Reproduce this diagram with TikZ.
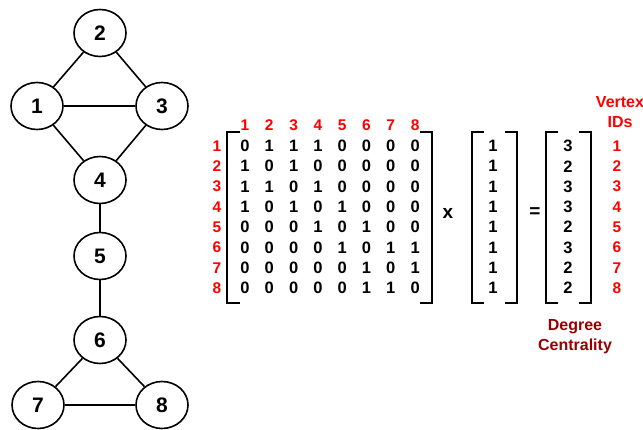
\documentclass[tikz,border=0pt]{standalone}
\usepackage{fontspec}
\setmainfont{Liberation Sans}
\usetikzlibrary{shapes.geometric}
\definecolor{idred}{RGB}{255,0,0}
\definecolor{degred}{RGB}{150,0,0}
\tikzset{
  vertex/.style={ellipse,draw,line width=1.6pt,minimum width=52pt,minimum height=47pt,inner sep=0pt,font=\fontsize{21}{21}\selectfont\bfseries},
  edge/.style={line width=1.6pt},
  cell/.style={inner sep=0pt,font=\fontsize{16.5}{16.5}\selectfont\bfseries},
  op/.style={inner sep=0pt,font=\fontsize{19}{19}\selectfont\bfseries},
  idlabel/.style={inner sep=0pt,text=idred,font=\fontsize{15.5}{15.5}\selectfont\bfseries},
  brack/.style={line width=1.6pt},
  caption/.style={inner sep=0pt,text=degred,align=center,font=\fontsize{16}{20}\selectfont\bfseries},
}
\begin{document}
\begin{tikzpicture}[x=1pt,y=-1pt]
\useasboundingbox (0,0) rectangle (643,430);

% graph
\node[vertex] (v2) at (100,33) {2};
\node[vertex] (v1) at (37,106) {1};
\node[vertex] (v3) at (162,106) {3};
\node[vertex] (v4) at (100,180) {4};
\node[vertex] (v5) at (100,256) {5};
\node[vertex] (v6) at (100,340) {6};
\node[vertex] (v7) at (38,405) {7};
\node[vertex] (v8) at (162,405) {8};
\draw[edge] (v1) -- (v2);
\draw[edge] (v2) -- (v3);
\draw[edge] (v1) -- (v3);
\draw[edge] (v1) -- (v4);
\draw[edge] (v3) -- (v4);
\draw[edge] (v4) -- (v5);
\draw[edge] (v5) -- (v6);
\draw[edge] (v6) -- (v7);
\draw[edge] (v6) -- (v8);
\draw[edge] (v7) -- (v8);

% adjacency matrix
\foreach \c in {1,...,8}
  \node[idlabel] (col\c) at ({245+(\c-1)*24.3},125) {\c};
\foreach \r in {1,...,8}
  \node[idlabel] (row\r) at (217,{146+(\r-1)*20.3}) {\r};
\foreach \rowvals [count=\r] in {
  {0,1,1,1,0,0,0,0},
  {1,0,1,0,0,0,0,0},
  {1,1,0,1,0,0,0,0},
  {1,0,1,0,1,0,0,0},
  {0,0,0,1,0,1,0,0},
  {0,0,0,0,1,0,1,1},
  {0,0,0,0,0,1,0,1},
  {0,0,0,0,0,1,1,0}}
  \foreach \v [count=\c] in \rowvals
    \node[cell] (a\r-\c) at ({245+(\c-1)*24.3},{146+(\r-1)*20.3}) {\v};
\draw[brack] (240,132) -- (227,132) -- (227,303) -- (240,303);
\draw[brack] (420,132) -- (432,132) -- (432,303) -- (420,303);

\node[op] (times) at (448,213) {x};

% ones vector
\foreach \r in {1,...,8}
  \node[cell] (one\r) at (493,{146+(\r-1)*20.3}) {1};
\draw[brack] (484,132) -- (472,132) -- (472,303) -- (484,303);
\draw[brack] (505,132) -- (517,132) -- (517,303) -- (505,303);

\node[op] (equals) at (535,213) {=};

% degree vector
\foreach \v [count=\r] in {3,2,3,3,2,3,2,2}
  \node[cell] (deg\r) at (568,{146+(\r-1)*20.3}) {\v};
\draw[brack] (558,132) -- (546,132) -- (546,303) -- (558,303);
\draw[brack] (579,132) -- (591,132) -- (591,303) -- (579,303);

% vertex ids
\foreach \r in {1,...,8}
  \node[idlabel] (id\r) at (617,{146+(\r-1)*20.3}) {\r};
\node[caption,text=idred] (vid) at (620,112) {Vertex\\IDs};
\node[caption] (dc) at (575,337) {Degree\\Centrality};
\end{tikzpicture}
\end{document}
